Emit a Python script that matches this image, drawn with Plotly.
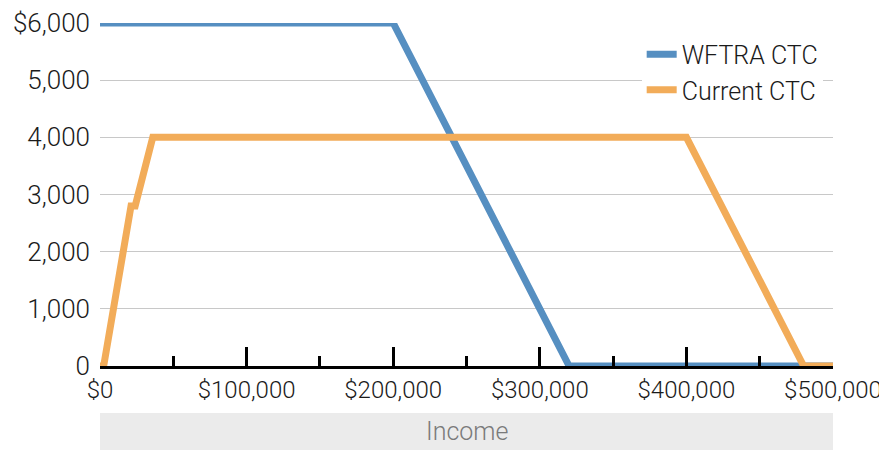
import plotly.graph_objects as go

# Data
wftra_income = [0, 200000, 320000, 500000]
wftra_ctc = [6000, 6000, 0, 0]
current_income = [0, 2500, 21167, 24000, 36000, 400000, 480000, 500000]
current_ctc = [0, 0, 2800, 2800, 4000, 4000, 0, 0]

x_tickvals = [0, 100000, 200000, 300000, 400000, 500000]
x_ticktext = ["$0", "$100,000", "$200,000", "$300,000", "$400,000", "$500,000"]
x_minorvals = [50000, 150000, 250000, 350000, 450000]
y_tickvals = [0, 1000, 2000, 3000, 4000, 5000, 6000]
y_ticktext = ["0", "1,000", "2,000", "3,000", "4,000", "5,000", "$6,000"]

FONT = "Roboto, Liberation Sans Narrow, sans-serif"
BLUE = "#568FC1"
ORANGE = "#F2AC59"
TXT = "#1a1a1a"

fig = go.Figure()
fig.add_trace(go.Scatter(x=wftra_income, y=wftra_ctc, mode="lines", name="WFTRA CTC",
                         line=dict(color=BLUE, width=7), cliponaxis=False))
fig.add_trace(go.Scatter(x=current_income, y=current_ctc, mode="lines", name="Current CTC",
                         line=dict(color=ORANGE, width=7), cliponaxis=False))

fig.update_layout(
    width=879, height=442,
    margin=dict(l=92, r=54, t=15, b=84, autoexpand=False),
    paper_bgcolor="white", plot_bgcolor="white",
    font=dict(family=FONT, size=26, color=TXT, weight=300),
    showlegend=True,
    legend=dict(x=0.739, y=0.975, xanchor="left", yanchor="top", bgcolor="white",
                font=dict(size=25, color=TXT, family=FONT, weight=300),
                itemwidth=30, tracegroupgap=0),
    xaxis=dict(range=[0, 500000], tickvals=x_tickvals, ticktext=x_ticktext,
               ticks="inside", ticklen=19, tickwidth=2.5, tickcolor="black",
               showline=True, linecolor="black", linewidth=2.5,
               showgrid=False, zeroline=False, automargin=False,
               minor=dict(tickvals=x_minorvals, ticks="inside", ticklen=10,
                          tickwidth=2.5, tickcolor="black", showgrid=False),
               tickfont=dict(size=24, family=FONT, weight=300), ticklabelstandoff=0),
    yaxis=dict(range=[0, 6000], tickvals=y_tickvals, ticktext=y_ticktext,
               showgrid=True, gridcolor="#c8c8c8", gridwidth=1.2, automargin=False,
               zeroline=False, showline=False, ticks="", ticklabelstandoff=9,
               tickfont=dict(size=26, family=FONT, weight=300)),
)

fig.add_shape(type="rect", xref="x", yref="paper", x0=0, x1=500000, y0=-0.26, y1=-0.137,
              fillcolor="#EBEBEB", line=dict(width=0), layer="below")
fig.add_annotation(text="Income", xref="paper", yref="paper", x=0.5, y=-0.192,
                   showarrow=False, font=dict(size=25, color="#7a7a7a", family=FONT, weight=300),
                   yanchor="middle")

fig.write_html("out.html")
